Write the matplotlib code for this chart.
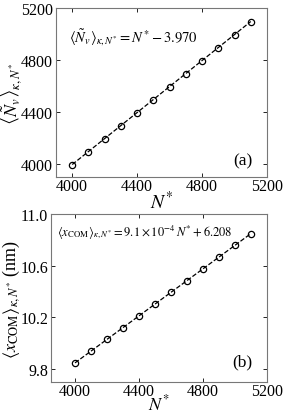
import numpy as np
import matplotlib
matplotlib.use("Agg")
import matplotlib.pyplot as plt

plt.rcParams['font.family'] = ['Liberation Serif', 'DejaVu Serif']
plt.rcParams['mathtext.fontset'] = 'stix'

# data
n_star = [4000, 4100, 4200, 4300, 4400, 4500, 4600, 4700, 4800, 4900, 5000, 5100]
nv_mean = [3996.0, 4096.0, 4196.0, 4296.0, 4396.0, 4496.0, 4596.0, 4696.0, 4796.0, 4896.0, 4996.0, 5096.0]
xcom_mean = [9.848, 9.939, 10.030, 10.121, 10.212, 10.303, 10.394, 10.485, 10.576, 10.667, 10.758, 10.849]
xticks = [4000, 4400, 4800, 5200]
yticks_a = [4000, 4400, 4800, 5200]
yticks_b = [9.8, 10.2, 10.6, 11.0]

fig = plt.figure(figsize=(2.83, 4.14), dpi=100)
ax1 = fig.add_axes([56/283, 1 - 178/414, 211/283, 169/414])
ax2 = fig.add_axes([51/283, 1 - 383/414, 216/283, 168/414])

def style(ax):
    ax.tick_params(direction='in', top=True, right=True, labelsize=11.5, length=3,
                   width=0.6, colors='black', pad=2)
    ax.tick_params(axis='x', pad=1)
    for s in ax.spines.values():
        s.set_color('#777777')
        s.set_linewidth(0.8)

ax1.plot(n_star, nv_mean, linestyle='--', color='black', linewidth=0.9,
         marker='o', markersize=4.5, markerfacecolor='none', markeredgewidth=0.9)
ax1.set_xlim(3900, 5200)
ax1.set_ylim(3900, 5200)
ax1.set_xticks(xticks)
ax1.set_yticks(yticks_a)
ax1.set_xlabel(r'$N^{*}$', fontsize=14)
ax1.xaxis.set_label_coords(0.5, -0.075)
ax1.set_ylabel(r'$\left\langle \tilde{N}_v \right\rangle_{\kappa,N^{*}}$', fontsize=13)
ax1.yaxis.set_label_coords(-0.15, 0.5)
ax1.text(0.06, 0.83, r'$\langle \tilde{N}_v \rangle_{\kappa,N^{*}} = N^{*} - 3.970$',
         transform=ax1.transAxes, fontsize=10.5, va='center')
ax1.text(0.93, 0.10, '(a)', transform=ax1.transAxes, fontsize=12.5, ha='right', va='center')
style(ax1)

ax2.plot(n_star, xcom_mean, linestyle='--', color='black', linewidth=0.9,
         marker='o', markersize=4.5, markerfacecolor='none', markeredgewidth=0.9)
ax2.set_xlim(3850, 5200)
ax2.set_ylim(9.7, 11.0)
ax2.set_xticks(xticks)
ax2.set_yticks(yticks_b)
ax2.set_yticklabels(['9.8', '10.2', '10.6', '11.0'])
ax2.set_xlabel(r'$N^{*}$', fontsize=13)
ax2.xaxis.set_label_coords(0.5, -0.066)
ax2.set_ylabel(r'$\left\langle x_{\rm COM} \right\rangle_{\kappa,N^{*}}$ (nm)', fontsize=13)
ax2.yaxis.set_label_coords(-0.135, 0.5)
ax2.text(0.03, 0.90, r'$\langle x_{\rm COM} \rangle_{\kappa,N^{*}} = 9.1\times 10^{-4}\,N^{*} + 6.208$',
         transform=ax2.transAxes, fontsize=9, va='center')
ax2.text(0.93, 0.125, '(b)', transform=ax2.transAxes, fontsize=12.5, ha='right', va='center')
style(ax2)

fig.savefig('out.png', dpi=100)
